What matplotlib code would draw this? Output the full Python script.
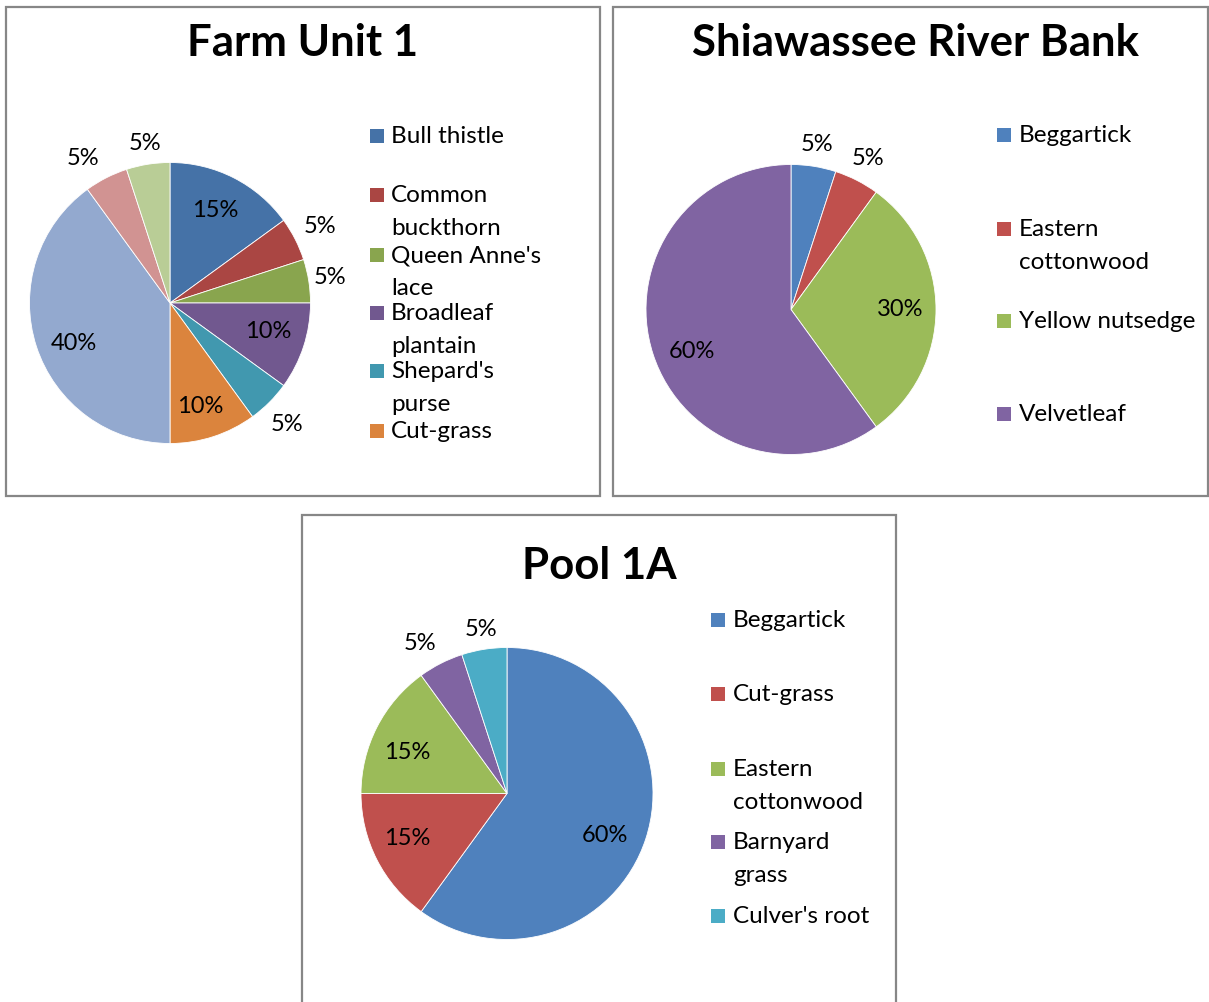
"""
Weed species composition at three survey sites, drawn as pie charts.
"""

import numpy as np
import matplotlib
matplotlib.use("Agg")
import matplotlib.pyplot as plt
from matplotlib.patches import Rectangle

plt.rcParams['font.family'] = ['Lato', 'DejaVu Sans']

W, H = 1209, 1002

# Farm Unit 1 (the last three slices have no legend entry)
farm_species = ["Bull thistle", "Common\nbuckthorn", "Queen Anne's\nlace",
                "Broadleaf\nplantain", "Shepard's\npurse", "Cut-grass"]
farm_pct = [15, 5, 5, 10, 5, 10, 40, 5, 5]
farm_colors = ["#4572A7", "#AA4643", "#89A54E", "#71588F", "#4198AF",
               "#DB843D", "#93A9CF", "#D19392", "#B9CD96"]

# Shiawassee River Bank
river_species = ["Beggartick", "Eastern\ncottonwood", "Yellow nutsedge",
                 "Velvetleaf"]
river_pct = [5, 5, 30, 60]

# Pool 1A
pool_species = ["Beggartick", "Cut-grass", "Eastern\ncottonwood",
                "Barnyard\ngrass", "Culver's root"]
pool_pct = [60, 15, 15, 5, 5]

office_colors = ["#4F81BD", "#C0504D", "#9BBB59", "#8064A2", "#4BACC6"]


def fx(px):
    return px / W


def fy(py):
    return 1 - py / H


def frame(fig, x0, y0, x1, y1):
    fig.patches.append(Rectangle((fx(x0), fy(y1)), fx(x1 - x0), (y1 - y0) / H,
                                 transform=fig.transFigure, fill=False,
                                 edgecolor="#878787", lw=1.6))


def pie_panel(fig, title, title_xy, values, colors, center, radius,
              label_pos, legend_names, legend_x, legend_baselines):
    cx, cy = center
    ax = fig.add_axes([fx(cx - radius), fy(cy + radius),
                       2 * radius / W, 2 * radius / H])
    wedges, texts = ax.pie(values, colors=colors, startangle=90,
                           counterclock=False, radius=1,
                           wedgeprops=dict(edgecolor="white", lw=0.6))
    ax.set_xlim(-1, 1)
    ax.set_ylim(-1, 1)
    ax.axis("off")

    # percentage labels, some inside the slice and some just outside it
    # label_pos: (distance from centre, angle nudge in degrees)
    for w, v, (d, nudge) in zip(wedges, values, label_pos):
        ang = np.deg2rad((w.theta1 + w.theta2) / 2 + nudge)
        ax.text(d * np.cos(ang), d * np.sin(ang), f"{v}%", ha="center",
                va="center", fontsize=17, color="black", clip_on=False)

    fig.text(fx(title_xy[0]), fy(title_xy[1]), title, ha="center",
             va="baseline", fontsize=31.5, fontweight="bold")

    # legend: square swatch + wrapped name
    mx, tx = legend_x
    for name, col, base in zip(legend_names, colors, legend_baselines):
        fig.patches.append(Rectangle((fx(mx), fy(base)), fx(14), 14 / H,
                                     transform=fig.transFigure,
                                     facecolor=col, edgecolor="none"))
        for k, line in enumerate(name.split("\n")):
            fig.text(fx(tx), fy(base + 33 * k), line, ha="left",
                     va="baseline", fontsize=17.5)


fig = plt.figure(figsize=(W / 100, H / 100), dpi=100)

frame(fig, 6, 7, 600, 496)
frame(fig, 613, 7, 1208, 496)
frame(fig, 302, 515, 896, 1015)

pie_panel(fig, "Farm Unit 1", (303, 56), farm_pct, farm_colors,
          (170, 303), 140.5,
          [(0.73, 1), (1.2, 0), (1.15, 0), (0.73, 2), (1.2, -1),
           (0.77, -2), (0.74, 5), (1.2, 4), (1.15, 0)],
          farm_species, (370, 391),
          [143, 202, 262, 320, 378, 438])

pie_panel(fig, "Shiawassee River Bank", (916, 56), river_pct, office_colors,
          (791, 309.5), 145,
          [(1.15, 0), (1.17, 0), (0.75, 0), (0.74, 5)],
          river_species, (997, 1019),
          [142, 236, 328, 421])

pie_panel(fig, "Pool 1A", (599, 579), pool_pct, office_colors,
          (507, 793.5), 146,
          [(0.73, -5.5), (0.75, -3), (0.74, 4.5), (1.19, 3), (1.14, 0)],
          pool_species, (711, 733),
          [627, 701, 776, 849, 923])

fig.savefig("out.png", dpi=100)
